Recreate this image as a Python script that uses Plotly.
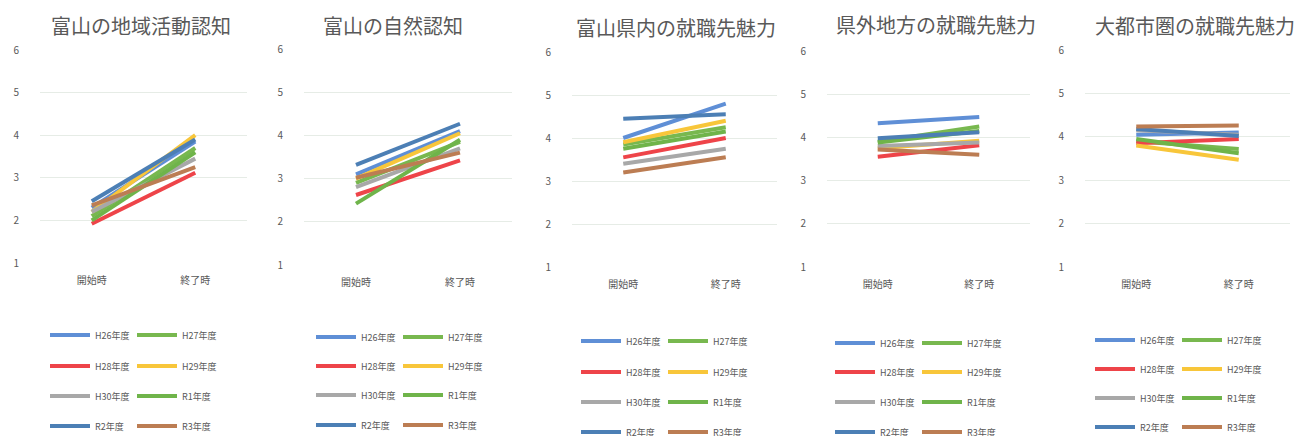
import plotly.graph_objects as go

W, H = 1299, 436
FONT = "Noto Sans CJK JP"
TEXT = "#595959"

stages = ["開始時", "終了時"]
years = ["H26年度", "H27年度", "H28年度", "H29年度", "H30年度", "R1年度", "R2年度", "R3年度"]
colors = ["#5F8FD6", "#78B84F", "#EE4449", "#F8C63A", "#A8A8A8", "#6FB44A", "#4C7FB5", "#BC7D53"]

titles = ["富山の地域活動認知", "富山の自然認知", "富山県内の就職先魅力",
          "県外地方の就職先魅力", "大都市圏の就職先魅力"]

# 開始時 / 終了時 の平均値（年度順）
local_start = [2.30, 2.10, 1.92, 2.20, 2.20, 2.00, 2.45, 2.35]
local_end = [3.85, 3.70, 3.12, 4.00, 3.45, 3.60, 3.90, 3.25]

nature_start = [3.10, 2.90, 2.62, 3.00, 2.80, 2.42, 3.32, 3.02]
nature_end = [4.10, 3.85, 3.42, 4.05, 3.70, 3.90, 4.27, 3.60]

pref_start = [4.00, 3.85, 3.55, 3.90, 3.40, 3.75, 4.45, 3.20]
pref_end = [4.80, 4.25, 4.00, 4.40, 3.75, 4.15, 4.55, 3.55]

rural_start = [4.33, 3.90, 3.55, 3.75, 3.80, 3.88, 3.98, 3.72]
rural_end = [4.47, 4.25, 3.82, 3.92, 3.88, 4.15, 4.12, 3.60]

metro_start = [4.05, 3.90, 3.85, 3.80, 4.15, 3.95, 4.18, 4.24]
metro_end = [4.10, 3.72, 3.95, 3.47, 4.05, 3.62, 4.02, 4.26]

panels_data = [
    (local_start, local_end),
    (nature_start, nature_end),
    (pref_start, pref_end),
    (rural_start, rural_end),
    (metro_start, metro_end),
]

# panel geometry in pixels: plot x0, x1, y(6), y(1), title centre, legend rows
geom = [
    dict(x0=40, x1=247, yt=50, yb=263, tx=141, ty=25, lx=45, rows=[335, 366, 396, 426]),
    dict(x0=304, x1=512, yt=49, yb=265, tx=393, ty=25, lx=311, rows=[337, 366, 395, 425]),
    dict(x0=572, x1=777, yt=52, yb=267, tx=676, ty=27, lx=576, rows=[341, 372, 402, 432]),
    dict(x0=827, x1=1030, yt=51, yb=267, tx=936, ty=24, lx=830, rows=[343, 372, 402, 432]),
    dict(x0=1085, x1=1290, yt=50, yb=267, tx=1195, ty=25, lx=1090, rows=[340, 369, 398, 427]),
]

fig = go.Figure()
layout = dict(
    width=W, height=H,
    margin=dict(l=0, r=0, t=0, b=0, autoexpand=False),
    paper_bgcolor="white", plot_bgcolor="white",
    font=dict(family=FONT, color=TEXT),
    annotations=[],
)

legend_no = 0
for p, ((start, end), g) in enumerate(zip(panels_data, geom)):
    sfx = "" if p == 0 else str(p + 1)
    xa, ya = "x" + sfx, "y" + sfx
    layout["xaxis" + sfx] = dict(
        domain=[g["x0"] / W, g["x1"] / W], anchor=ya,
        type="category", range=[-0.5, 1.5],
        showgrid=False, showline=False, zeroline=False, ticks="",
        tickfont=dict(size=10, color=TEXT), ticklabelstandoff=10,
    )
    layout["yaxis" + sfx] = dict(
        domain=[1 - g["yb"] / H, 1 - g["yt"] / H], anchor=xa,
        range=[1, 6], tickvals=[1, 2, 3, 4, 5, 6],
        showgrid=True, gridcolor="#E6ECE6", gridwidth=1,
        showline=False, zeroline=False, ticks="",
        tickfont=dict(size=10, color=TEXT), ticklabelstandoff=20,
    )
    layout["annotations"].append(dict(
        text=titles[p], x=g["tx"] / W, y=1 - g["ty"] / H,
        xref="paper", yref="paper", xanchor="center", yanchor="middle",
        showarrow=False, font=dict(size=20, color=TEXT, family=FONT),
    ))
    for r, ry in enumerate(g["rows"]):
        legend_no += 1
        lname = "legend" if legend_no == 1 else "legend%d" % legend_no
        layout[lname] = dict(
            orientation="h", x=g["lx"] / W, xanchor="left",
            y=1 - ry / H, yanchor="middle",
            entrywidth=32, entrywidthmode="pixels", itemwidth=40,
            bgcolor="rgba(0,0,0,0)", borderwidth=0,
            font=dict(size=9, color=TEXT, family=FONT),
            traceorder="normal", itemclick=False, itemdoubleclick=False,
        )
        for k in (2 * r, 2 * r + 1):
            fig.add_trace(go.Scatter(
                x=stages, y=[start[k], end[k]], xaxis=xa, yaxis=ya,
                mode="lines", name=years[k],
                line=dict(color=colors[k], width=4),
                legend=lname, showlegend=True,
            ))

fig.update_layout(**layout)
fig.write_html("out.html")
